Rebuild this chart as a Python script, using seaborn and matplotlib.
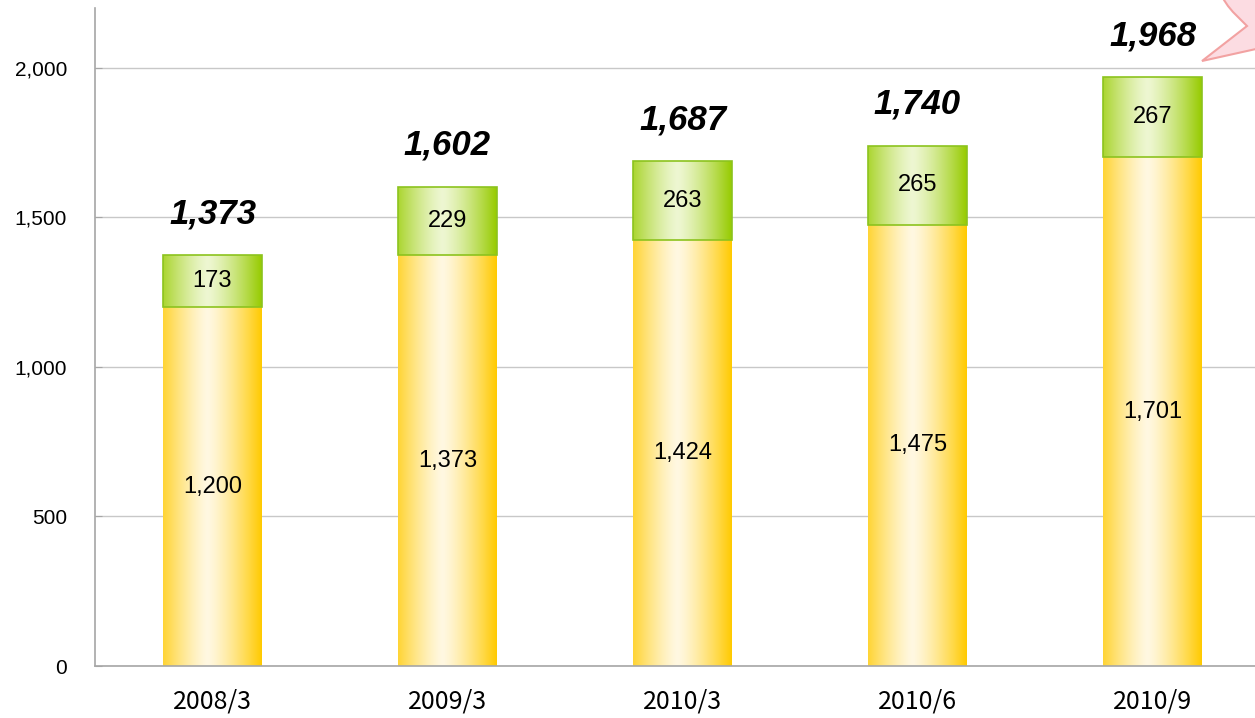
import seaborn as sns
import matplotlib.pyplot as plt
import matplotlib.colors as mcolors
from matplotlib.patches import Polygon
import numpy as np
import pandas as pd

# 期末ごとの内訳
periods = ['2008/3', '2009/3', '2010/3', '2010/6', '2010/9']
lower = [1200, 1373, 1424, 1475, 1701]
upper = [173, 229, 263, 265, 267]
totals = [1373, 1602, 1687, 1740, 1968]
yticks = [0, 500, 1000, 1500, 2000]

df = pd.DataFrame({'period': periods, 'lower': lower, 'upper': upper, 'total': totals})

sns.set_style('white')
plt.rcParams['font.family'] = ['Liberation Sans', 'DejaVu Sans']
plt.rcParams['text.color'] = 'black'
plt.rcParams['xtick.color'] = 'black'
plt.rcParams['ytick.color'] = 'black'

fig = plt.figure(figsize=(12.55, 7.18), dpi=100)
ax = fig.add_axes([95 / 1255, 52 / 718, 1175 / 1255, 658 / 718])

sns.barplot(data=df, x='period', y='lower', color='#FFCC00', width=0.42,
            linewidth=0, ax=ax)
sns.barplot(data=df, x='period', y='upper', bottom=df['lower'].to_numpy(),
            color='#99CC00', width=0.42, edgecolor='#8CC31E', linewidth=1.2, ax=ax)


def shade(edge, center):
    # 横方向のグラデーション（両端が濃く、中央付近が淡い）
    xs = np.linspace(0, 1, 200)
    t = np.clip(np.abs(xs - 0.45) / 0.55, 0, 1) ** 1.3
    e = np.array(mcolors.to_rgb(edge))
    c = np.array(mcolors.to_rgb(center))
    return (c[None, :] * (1 - t[:, None]) + e[None, :] * t[:, None])[None, :, :]


grad_y = shade('#FFCA00', '#FFF8E2')
grad_g = shade('#97CB00', '#EEF7D2')

for i, p in enumerate(ax.patches):
    x0, y0 = p.get_x(), p.get_y()
    w, h = p.get_width(), p.get_height()
    img = grad_y if i < len(periods) else grad_g
    im = ax.imshow(img, extent=[x0, x0 + w, y0, y0 + h], aspect='auto',
                   zorder=1.5, interpolation='bilinear')
    im.set_clip_path(p)
    p.set_facecolor('none')
    p.set_zorder(2)

ax.set_xlim(-0.5, 4.5)
ax.set_ylim(0, 2200)

# 数値ラベル
for i in range(len(periods)):
    ax.text(i, lower[i] / 2, f'{lower[i]:,}', ha='center', va='center', fontsize=17, zorder=3)
    ax.text(i, lower[i] + upper[i] / 2, f'{upper[i]:,}', ha='center', va='center',
            fontsize=17, zorder=3)
    ax.annotate(f'{totals[i]:,}', (i, totals[i]), xytext=(0, 30), textcoords='offset points',
                ha='center', va='center', fontsize=25, fontweight='bold', fontstyle='italic',
                zorder=3)

ax.set_yticks(yticks)
ax.set_yticklabels([f'{v:,}' for v in yticks], fontsize=15)
ax.set_xticks(range(len(periods)))
ax.set_xticklabels(periods, fontsize=18, family=['Noto Sans CJK JP', 'DejaVu Sans'])
ax.set_xticks(np.arange(0.5, len(periods) - 0.5, 1), minor=True)
ax.tick_params(axis='x', which='major', length=0, pad=16)
ax.tick_params(axis='x', which='minor', direction='in', length=8, color='#A6A6A6', width=1)
ax.tick_params(axis='y', direction='in', length=5, color='#A6A6A6', pad=20, left=True)
ax.set_xlabel('')
ax.set_ylabel('')

ax.grid(axis='y', color='#C8C8C8', linewidth=1)
ax.set_axisbelow(True)
for s in ['top', 'right']:
    ax.spines[s].set_visible(False)
for s in ['left', 'bottom']:
    ax.spines[s].set_color('#A6A6A6')
    ax.spines[s].set_linewidth(1.2)

# 右上の吹き出し（一部のみ表示）
pts_px = [(1202, 61), (1247, 26), (1240, 19), (1233, 12), (1228, 6), (1224, 0),
          (1222, -4), (1262, -4), (1262, 48), (1256, 49)]
bubble = Polygon([(x / 1255, 1 - y / 718) for x, y in pts_px], closed=True,
                 transform=fig.transFigure, facecolor='#FCDCE2', edgecolor='#F2A2A2',
                 linewidth=1.5, clip_on=False)
fig.patches.append(bubble)

fig.savefig('out.png', dpi=100)
